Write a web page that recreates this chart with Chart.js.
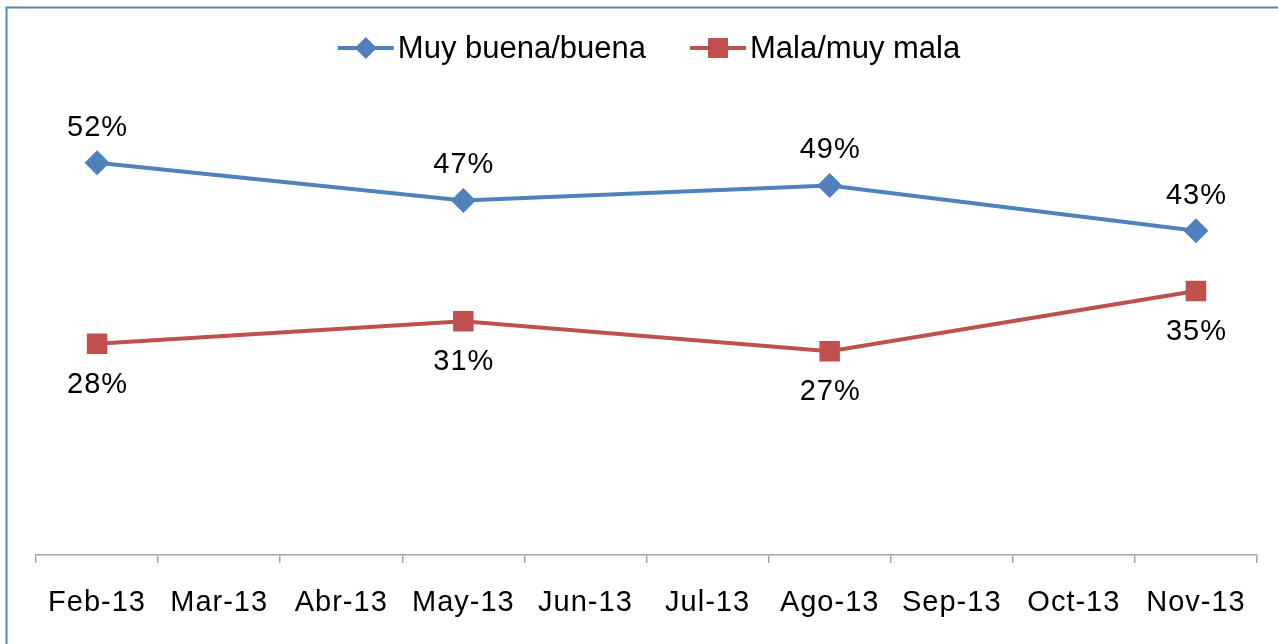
<!DOCTYPE html>
<html>
<head>
<meta charset="utf-8">
<script src="https://cdn.jsdelivr.net/npm/chart.js@4/dist/chart.umd.min.js"></script>
<style>
  html, body { margin: 0; padding: 0; background: #ffffff; }
  #wrap { width: 1278px; height: 644px; position: relative; }
</style>
</head>
<body>
<div id="wrap"><canvas id="c" width="1278" height="644"></canvas></div>
<script>
const categories = ["Feb-13", "Mar-13", "Abr-13", "May-13", "Jun-13", "Jul-13", "Ago-13", "Sep-13", "Oct-13", "Nov-13"];
const seriesNames = ["Muy buena/buena", "Mala/muy mala"];
const buenaValues = [52, null, null, 47, null, null, 49, null, null, 43];
const malaValues = [28, null, null, 31, null, null, 27, null, null, 35];

const FONT = "'Liberation Sans', Arial, sans-serif";
const BLUE = '#4F81BD';
const RED = '#C0504D';

const framePlugin = {
  id: 'frame',
  beforeDraw(chart) {
    const ctx = chart.ctx;
    ctx.save();
    ctx.strokeStyle = '#4F81BD';
    ctx.lineWidth = 2;
    ctx.beginPath();
    ctx.moveTo(1278, 7.5);
    ctx.lineTo(6.5, 7.5);
    ctx.lineTo(6.5, 644);
    ctx.stroke();
    ctx.restore();
    ctx.letterSpacing = '1px';
  },
  beforeDatasetsDraw(chart) {
    chart.ctx.letterSpacing = '0px';
  },
  afterDatasetsDraw(chart) {
    const ctx = chart.ctx;
    ctx.save();
    ctx.letterSpacing = '1px';
    ctx.font = '29px ' + FONT;
    ctx.fillStyle = '#000000';
    ctx.textAlign = 'center';
    ctx.textBaseline = 'middle';
    chart.data.datasets.forEach((ds, di) => {
      const meta = chart.getDatasetMeta(di);
      meta.data.forEach((pt, i) => {
        const v = ds.data[i];
        if (v === null || v === undefined) return;
        const dy = di === 0 ? -35 : 41;
        ctx.fillText(v + '%', pt.x + 0.5, pt.y + dy);
      });
    });
    ctx.restore();
  },
  afterDraw(chart) {
    const ctx = chart.ctx;
    ctx.save();
    ctx.letterSpacing = '0px';
    ctx.font = '31px ' + FONT;
    ctx.textBaseline = 'middle';
    ctx.textAlign = 'left';
    const lineLen = 56, gap = 4, itemGap = 44;
    const items = chart.data.datasets.map(ds => ({ ds, w: ctx.measureText(ds.label).width }));
    const total = items.reduce((s, it) => s + lineLen + gap + it.w, 0) + itemGap * (items.length - 1);
    let x = 649 - total / 2;
    const y = 48;
    items.forEach(it => {
      const ds = it.ds;
      ctx.strokeStyle = ds.borderColor;
      ctx.lineWidth = 4;
      ctx.beginPath();
      ctx.moveTo(x, y);
      ctx.lineTo(x + lineLen, y);
      ctx.stroke();
      ctx.fillStyle = ds.borderColor;
      const cx = x + lineLen / 2;
      ctx.beginPath();
      if (ds.pointStyle === 'rectRot') {
        const r = 11;
        ctx.moveTo(cx - r, y); ctx.lineTo(cx, y - r); ctx.lineTo(cx + r, y); ctx.lineTo(cx, y + r);
        ctx.closePath();
      } else {
        ctx.rect(cx - 10, y - 10, 20, 20);
      }
      ctx.fill();
      ctx.fillStyle = '#000000';
      ctx.fillText(ds.label, x + lineLen + gap, y + 1);
      x += lineLen + gap + it.w + itemGap;
    });
    ctx.restore();
  }
};

new Chart(document.getElementById('c'), {
  type: 'line',
  data: {
    labels: categories,
    datasets: [
      {
        label: seriesNames[0],
        data: buenaValues,
        borderColor: BLUE,
        backgroundColor: BLUE,
        borderWidth: 4,
        pointStyle: 'rectRot',
        pointRadius: 12.5,
        pointBorderWidth: 0,
        spanGaps: true,
        tension: 0
      },
      {
        label: seriesNames[1],
        data: malaValues,
        borderColor: RED,
        backgroundColor: RED,
        borderWidth: 4,
        pointStyle: 'rect',
        pointRadius: 14.5,
        pointBorderWidth: 0,
        spanGaps: true,
        tension: 0
      }
    ]
  },
  options: {
    responsive: false,
    animation: false,
    events: [],
    layout: { padding: { top: 27, left: 36, right: 21, bottom: 0 } },
    plugins: { legend: { display: false }, tooltip: { enabled: false } },
    scales: {
      x: {
        offset: true,
        grid: {
          offset: true,
          drawOnChartArea: false,
          drawTicks: true,
          tickLength: 8,
          color: '#A6A6A6',
          lineWidth: 1.5
        },
        border: { display: true, color: '#A6A6A6', width: 1.5 },
        ticks: {
          autoSkip: false,
          maxRotation: 0,
          padding: 23,
          color: '#000000',
          font: { family: FONT, size: 29 }
        },
        afterFit(scale) { scale.height = 89; }
      },
      y: {
        display: false,
        min: 0,
        max: 70
      }
    }
  },
  plugins: [framePlugin]
});
</script>
</body>
</html>
